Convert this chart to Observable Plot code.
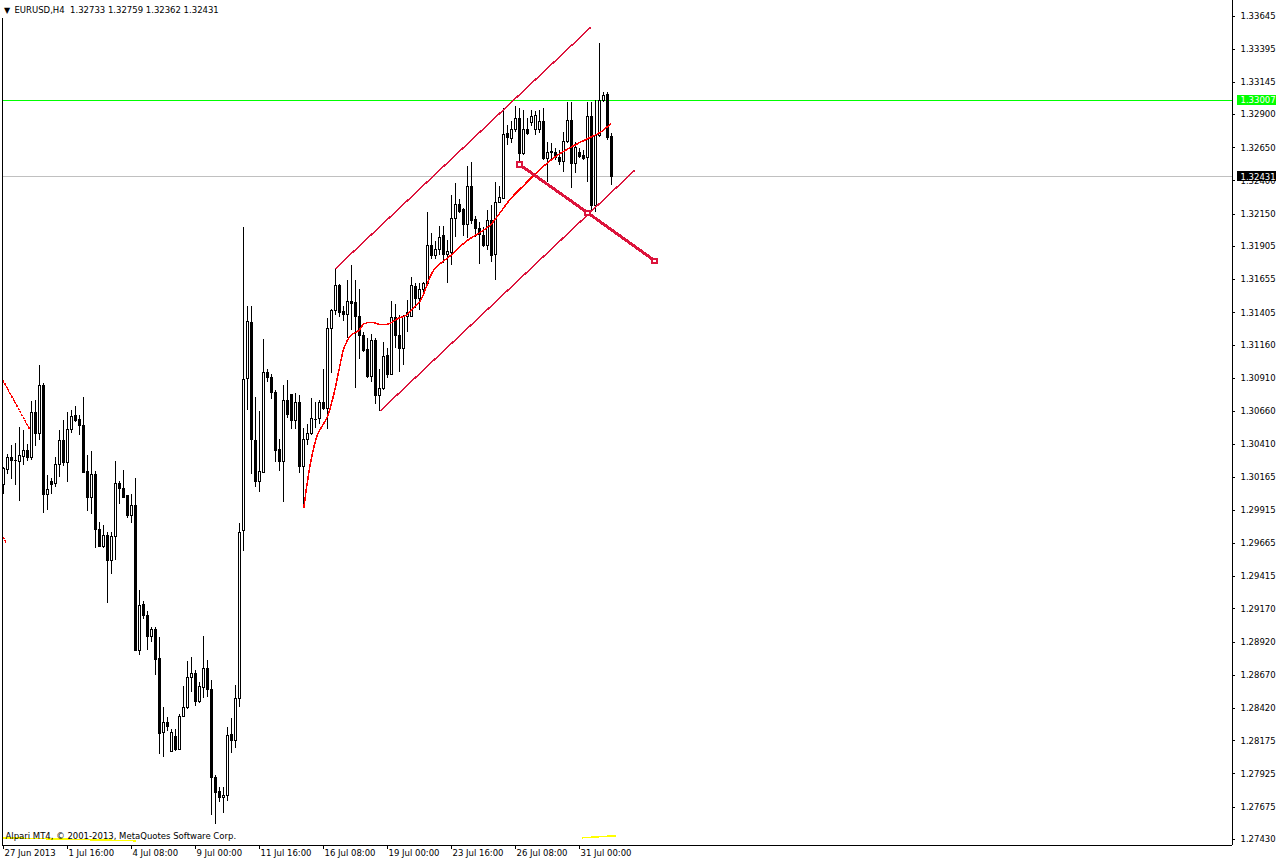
<!DOCTYPE html>
<html><head><meta charset="utf-8">
<script src="https://cdn.jsdelivr.net/npm/d3@7"></script>
<script src="https://cdn.jsdelivr.net/npm/@observablehq/plot@0.6"></script>
<style>
html,body{margin:0;padding:0;background:#fff;overflow:hidden}
#chart svg{display:block}
#chart svg line, #chart svg rect, #chart svg path{shape-rendering:crispEdges}
</style></head><body><div id="chart"></div><script>
// ---- data (H4 bars, index 0 = 27 Jun 2013 00:00) ----
const symbol = "EURUSD,H4";
const open = [1.30108,1.30221,1.30312,1.30289,1.30281,1.30319,1.30365,1.30312,1.30651,1.30493,
1.30855,1.30032,1.30130,1.30115,1.30259,1.30440,1.30274,1.30523,1.30629,1.30599,
1.30553,1.30206,1.30010,1.30183,1.29768,1.29640,1.29723,1.29534,1.29715,1.30115,
1.30078,1.30025,1.29874,1.29949,1.28855,1.29202,1.29119,1.28960,1.29013,1.28794,
1.28235,1.28311,1.28092,1.28205,1.28107,1.28356,1.28424,1.28651,1.28681,1.28469,
1.28575,1.28719,1.28560,1.27896,1.27790,1.27745,1.27760,1.28220,1.28175,1.28492,
1.29761,1.30908,1.31331,1.30440,1.30130,1.30198,1.30953,1.30916,1.30802,1.30372,
1.30281,1.30742,1.30787,1.30591,1.30727,1.30244,1.30448,1.30493,1.30606,1.30606,
1.30727,1.30682,1.31286,1.31422,1.31610,1.31414,1.31391,1.31489,1.31482,1.31376,
1.31233,1.31127,1.30923,1.31195,1.30780,1.30833,1.31082,1.30938,1.31369,1.31233,
1.31135,1.31376,1.31376,1.31603,1.31512,1.31580,1.31625,1.31912,1.31837,1.31882,
1.31988,1.31844,1.31859,1.32116,1.32222,1.32184,1.32071,1.32358,1.32109,1.32041,
1.31988,1.31912,1.32101,1.31844,1.32237,1.32267,1.32758,1.32713,1.32781,1.32864,
1.32607,1.32788,1.32841,1.32781,1.32781,1.32848,1.32569,1.32614,1.32614,1.32577,
1.32546,1.32697,1.32856,1.32531,1.32614,1.32592,1.32577,1.32879,1.32214,1.32743,
1.33007,1.33052,1.32733];
const high = [1.30236,1.30334,1.30402,1.30417,1.30538,1.30516,1.30410,1.30734,1.30742,1.31006,
1.30870,1.30176,1.30153,1.30312,1.30516,1.30591,1.30651,1.30667,1.30697,1.30629,
1.30765,1.30327,1.30357,1.30206,1.29821,1.29798,1.29745,1.29745,1.30281,1.30130,
1.30214,1.30025,1.30032,1.30153,1.29308,1.29224,1.29149,1.29028,1.29028,1.28953,
1.28424,1.28349,1.28258,1.28258,1.28371,1.28583,1.28771,1.28802,1.28704,1.28613,
1.28960,1.28779,1.28628,1.27911,1.27820,1.27820,1.28273,1.28341,1.28590,1.29813,
1.32048,1.31452,1.31452,1.30765,1.30659,1.31203,1.30976,1.30938,1.30818,1.30448,
1.30855,1.30893,1.30787,1.30795,1.30780,1.30531,1.30561,1.30757,1.30727,1.30742,
1.30976,1.31361,1.31429,1.31731,1.31618,1.31452,1.31648,1.31761,1.31648,1.31580,
1.31255,1.31210,1.31240,1.31210,1.30976,1.31180,1.31135,1.31489,1.31467,1.31384,
1.31384,1.31497,1.31671,1.31625,1.31625,1.31633,1.32161,1.32003,1.31942,1.32056,
1.32056,1.31950,1.32290,1.32380,1.32260,1.32192,1.32509,1.32539,1.32131,1.32086,
1.32048,1.32177,1.32214,1.32388,1.32358,1.32947,1.32818,1.32848,1.32962,1.32947,
1.32932,1.32871,1.32932,1.32924,1.32932,1.32947,1.32690,1.32682,1.32645,1.32630,
1.32765,1.32992,1.32992,1.32690,1.32645,1.32630,1.32992,1.32992,1.33007,1.33437,
1.33067,1.33067,1.32759];
const low = [1.30032,1.30183,1.30146,1.30100,1.29979,1.30251,1.30281,1.30289,1.30395,1.30440,
1.29889,1.29912,1.30032,1.30085,1.30161,1.30244,1.30123,1.30493,1.30576,1.30478,
1.30191,1.29904,1.29881,1.29625,1.29632,1.29625,1.29209,1.29428,1.29534,1.29957,
1.30002,1.29851,1.29813,1.28847,1.28817,1.29089,1.28855,1.28915,1.28666,1.28069,
1.28047,1.28243,1.28084,1.28092,1.28100,1.28349,1.28409,1.28537,1.28432,1.28454,
1.28492,1.28500,1.27609,1.27541,1.27707,1.27624,1.27714,1.28077,1.28115,1.28424,
1.29602,1.30667,1.30183,1.30085,1.30047,1.30191,1.30878,1.30750,1.30274,1.30206,
1.29972,1.30606,1.30523,1.30523,1.30191,1.29927,1.30402,1.30478,1.30531,1.30561,
1.30667,1.30523,1.30946,1.31384,1.31369,1.31338,1.31210,1.31271,1.30833,1.31052,
1.31104,1.30908,1.30878,1.30712,1.30659,1.30818,1.30908,1.30931,1.31135,1.30953,
1.31006,1.31255,1.31369,1.31437,1.31422,1.31557,1.31618,1.31807,1.31807,1.31837,
1.31776,1.31625,1.31761,1.31973,1.32154,1.31980,1.31965,1.32071,1.31973,1.31769,
1.31897,1.31875,1.31784,1.31648,1.32229,1.32260,1.32667,1.32682,1.32765,1.32539,
1.32592,1.32743,1.32811,1.32743,1.32758,1.32554,1.32388,1.32554,1.32554,1.32516,
1.32463,1.32682,1.32343,1.32456,1.32569,1.32554,1.32388,1.32161,1.32161,1.32728,
1.32992,1.32705,1.32362];
const close = [1.30229,1.30312,1.30289,1.30290,1.30327,1.30365,1.30312,1.30651,1.30493,1.30855,
1.30032,1.30070,1.30108,1.30259,1.30440,1.30274,1.30523,1.30621,1.30591,1.30553,
1.30198,1.30010,1.30183,1.29768,1.29640,1.29723,1.29534,1.29715,1.30115,1.30078,
1.30010,1.29874,1.29949,1.28855,1.29194,1.29119,1.28960,1.29013,1.28787,1.28228,
1.28311,1.28281,1.28235,1.28107,1.28356,1.28424,1.28651,1.28681,1.28469,1.28583,
1.28719,1.28560,1.27896,1.27782,1.27745,1.27760,1.28213,1.28175,1.28492,1.29745,
1.30901,1.31338,1.30448,1.30130,1.30206,1.30953,1.30916,1.30802,1.30365,1.30281,
1.30742,1.30636,1.30591,1.30727,1.30244,1.30448,1.30493,1.30606,1.30599,1.30727,
1.30682,1.31286,1.31422,1.31610,1.31406,1.31391,1.31489,1.31474,1.31376,1.31233,
1.31120,1.30923,1.31195,1.30780,1.30833,1.31074,1.30938,1.31369,1.31233,1.31135,
1.31376,1.31406,1.31610,1.31512,1.31580,1.31625,1.31912,1.31837,1.31882,1.31973,
1.31844,1.31867,1.32116,1.32222,1.32169,1.32071,1.32358,1.32101,1.32041,1.31995,
1.31912,1.32101,1.31837,1.32237,1.32275,1.32750,1.32728,1.32781,1.32864,1.32607,
1.32788,1.32758,1.32879,1.32894,1.32848,1.32569,1.32614,1.32622,1.32577,1.32546,
1.32697,1.32856,1.32531,1.32652,1.32584,1.32569,1.32879,1.32214,1.32743,1.33007,
1.33045,1.32728,1.32431];

// moving average (red curve)
const maIdx = [75.1,75.9,77.2,78.6,80.9,82.6,83.9,85.1,86.75,88.8,90.1,92.2,94.25,96.3,98.4,100.5,102.2,104.25,107.5,111.75,115.9,119.25,121.75,124.25,126.75,130,134.25,138.4,142.6,146.75,149.25,151.75];
const maVal = [1.29936,1.30113,1.30340,1.30491,1.30616,1.30793,1.30976,1.31135,1.31233,1.31271,1.31321,1.31333,1.31316,1.31321,1.31359,1.31384,1.31434,1.31497,1.31724,1.31837,1.31950,1.32013,1.32069,1.32164,1.32265,1.32365,1.32491,1.32592,1.32667,1.32730,1.32768,1.32831];
// earlier dotted indicator pieces
const dotAIdx = [-0.1, 6.6], dotAVal = [1.30893, 1.30523];
const dotBIdx = [-0.1, 0.75], dotBVal = [1.29710, 1.29665];
// channel
const upIdx = [83, 146.75], upVal = [1.31739, 1.33558];
const loIdx = [94.25, 157.75], loVal = [1.30667, 1.32479];
// thick trend line with anchors
const trIdx = [129, 146, 162.75], trVal = [1.32524, 1.32161, 1.31799];
// yellow indicator traces near the bottom
const yelAIdx = [-0.25, 33], yelAVal = [1.27443, 1.27420];
const yelBIdx = [144.75, 153], yelBVal = [1.27443, 1.27458];
// horizontal levels
const levelLine = 1.33007;
const bidLine = close[close.length - 1];
// axes
const xTickIdx = [0,16,32,48,64,80,96,112,128,144];
const xTickLabels = ["27 Jun 2013","1 Jul 16:00","4 Jul 08:00","9 Jul 00:00","11 Jul 16:00","16 Jul 08:00","19 Jul 00:00","23 Jul 16:00","26 Jul 08:00","31 Jul 00:00"];
const yTicks = [1.33645,1.33395,1.33145,1.32900,1.32650,1.32400,1.32150,1.31905,1.31655,1.31405,1.31160,1.30910,1.30660,1.30410,1.30165,1.29915,1.29665,1.29415,1.29170,1.28920,1.28670,1.28420,1.28175,1.27925,1.27675,1.27430];
const copyright = "Alpari MT4, \u00a9 2001-2013, MetaQuotes Software Corp.";

// ---- layout ----
const W = 1276, H = 862, mL = 2, mR = 44, mT = 0, mB = 17;
const xDomain = [-0.25, 307.25];
const yDomain = [1.273846, 1.33762];
const ppu = (H - mT - mB) / (yDomain[1] - yDomain[0]); // px per price unit
const xMax = xDomain[1], xMin = xDomain[0], yMin = yDomain[0], yMax = yDomain[1];
const FONT = "DejaVu Sans", FS = 8.5;
const CRIMSON = "#dc143c";

const bars = open.map((o, i) => ({i, o, h: high[i], l: low[i], c: close[i]}));
const bodies = bars.filter(d => Math.abs(d.c - d.o) * ppu >= 1);
const flats = bars.filter(d => Math.abs(d.c - d.o) * ppu < 1);
const pts = (ix, vals) => ix.map((i, k) => ({i, p: vals[k]}));
const last = open.length - 1;
const titleText = symbol + "\u00a0\u00a0" + [open[last], high[last], low[last], close[last]].map(v => v.toFixed(5)).join(" ");

const chart = Plot.plot({
  width: W, height: H,
  marginLeft: mL, marginRight: mR, marginTop: mT, marginBottom: mB,
  x: {domain: xDomain, axis: null},
  y: {domain: yDomain, axis: null},
  style: {background: "#fff", fontFamily: FONT, fontSize: FS + "px", color: "#000"},
  marks: [
    // horizontal levels
    Plot.ruleY([bidLine], {stroke: "#c0c0c0"}),
    Plot.ruleY([levelLine], {stroke: "#00ff00"}),
    // yellow traces
    Plot.line(pts(yelAIdx, yelAVal), {x: "i", y: "p", stroke: "#ffff00"}),
    Plot.line(pts(yelBIdx, yelBVal), {x: "i", y: "p", stroke: "#ffff00"}),
    // candles
    Plot.ruleX(bars, {x: "i", y1: "l", y2: "h", stroke: "#000"}),
    Plot.rect(bodies, {x1: d => d.i - 0.25, x2: d => d.i + 0.25, y1: "o", y2: "c",
      fill: d => d.c > d.o ? "#fff" : "#000", stroke: "#000"}),
    Plot.ruleY(flats, {y: d => (d.o + d.c) / 2, x1: d => d.i - 0.375, x2: d => d.i + 0.375, stroke: "#000"}),
    // indicator lines
    Plot.line(pts(dotAIdx, dotAVal), {x: "i", y: "p", stroke: "#ff0000", strokeDasharray: "1.5,2"}),
    Plot.line(pts(dotBIdx, dotBVal), {x: "i", y: "p", stroke: "#ff0000", strokeDasharray: "1.5,2"}),
    Plot.line(pts(maIdx, maVal), {x: "i", y: "p", stroke: "#ff0000", curve: "catmull-rom"}),
    Plot.line(pts(upIdx, upVal), {x: "i", y: "p", stroke: CRIMSON}),
    Plot.line(pts(loIdx, loVal), {x: "i", y: "p", stroke: CRIMSON}),
    Plot.line(pts(trIdx, trVal), {x: "i", y: "p", stroke: CRIMSON, strokeWidth: 3}),
    Plot.dot(pts(trIdx, trVal), {x: "i", y: "p", symbol: "square", r: 2.3, stroke: CRIMSON, strokeWidth: 2, fill: "#fff"}),
    // frame
    Plot.ruleX([xMin], {y1: yMin, y2: yMax - 18 / ppu, stroke: "#000"}),
    Plot.ruleX([xMax], {stroke: "#000"}),
    Plot.ruleY([yMin], {stroke: "#000"}),
    // x axis
    Plot.ruleX(xTickIdx, {x: d => d, y1: yMin, y2: yMin - 4 / ppu, stroke: "#000"}),
    Plot.text(xTickIdx, {x: d => d, y: yMin, text: (d, k) => xTickLabels[k], dx: 1, dy: 8,
      textAnchor: "start", lineAnchor: "middle", fill: "#000", fontFamily: FONT, fontSize: FS}),
    // y axis
    Plot.ruleY(yTicks, {y: d => d, x1: xMax, x2: xMax + 0.75, stroke: "#000"}),
    Plot.text(yTicks, {x: xMax, y: d => d, text: d => d.toFixed(5), dx: 8,
      textAnchor: "start", lineAnchor: "middle", fill: "#000", fontFamily: FONT, fontSize: FS}),
    // price labels
    Plot.rect([levelLine], {x1: xMax + 1.25, x2: xMax + 11, y1: d => d - 5 / ppu, y2: d => d + 5 / ppu, fill: "#00ff00"}),
    Plot.text([levelLine], {x: xMax, y: d => d, text: d => d.toFixed(5), dx: 8,
      textAnchor: "start", lineAnchor: "middle", fill: "#fff", fontFamily: FONT, fontSize: FS}),
    Plot.rect([bidLine], {x1: xMax + 1.25, x2: xMax + 11, y1: d => d - 5 / ppu, y2: d => d + 5 / ppu, fill: "#000"}),
    Plot.text([bidLine], {x: xMax, y: d => d, text: d => d.toFixed(5), dx: 8,
      textAnchor: "start", lineAnchor: "middle", fill: "#fff", fontFamily: FONT, fontSize: FS}),
    // title + copyright
    Plot.text(["\u25BC"], {frameAnchor: "top-left", dx: 4.5, dy: 10, textAnchor: "middle", lineAnchor: "middle", fontSize: 8, fill: "#000", fontFamily: FONT}),
    Plot.text([titleText], {frameAnchor: "top-left", dx: 12, dy: 10, textAnchor: "start", lineAnchor: "middle", fill: "#000", fontFamily: FONT, fontSize: FS}),
    Plot.text([copyright], {frameAnchor: "bottom-left", dx: 3, dy: -9, textAnchor: "start", lineAnchor: "middle", fill: "#000", fontFamily: FONT, fontSize: FS})
  ]
});
document.getElementById("chart").appendChild(chart);
</script></body></html>
